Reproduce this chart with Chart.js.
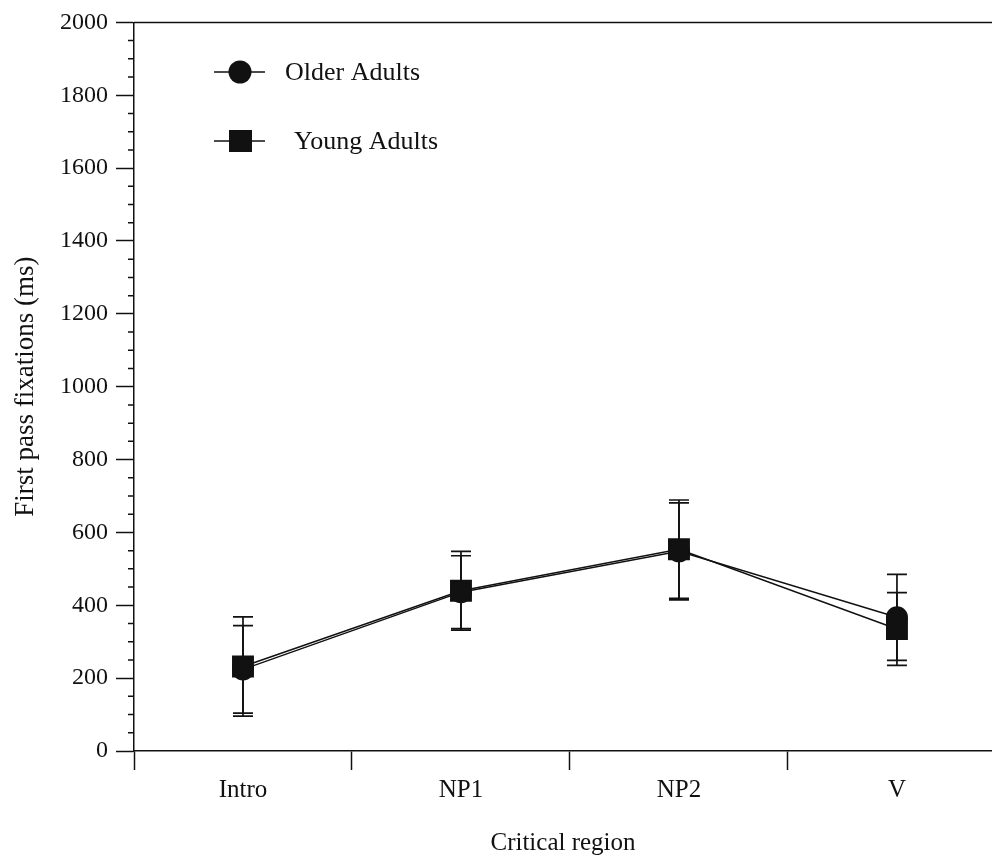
<!DOCTYPE html>
<html>
<head>
<meta charset="utf-8">
<script src="https://cdn.jsdelivr.net/npm/chart.js@4.4.1/dist/chart.umd.min.js"></script>
<style>
  body { margin: 0; background: #fff; }
  #wrap { width: 992px; height: 858px; }
</style>
</head>
<body>
<div id="wrap"><canvas id="myChart" width="992" height="858"></canvas></div>
<script>
// categories on the x axis
var categories = ['Intro', 'NP1', 'NP2', 'V'];
// mean first pass fixation times (ms)
var olderMeans = [224, 436, 548, 367];
var youngMeans = [232, 440, 554, 335];
// error bar half-lengths (ms)
var olderErr = [120, 100, 133, 118];
var youngErr = [136, 108, 135, 100];
// y axis
var yTicks = [0, 200, 400, 600, 800, 1000, 1200, 1400, 1600, 1800, 2000];

var serif = "'Liberation Serif', 'Times New Roman', serif";
var ink = '#111';

function toPoints(means) {
    return means.map(function (m, i) { return { x: i, y: m }; });
}

// error bars, top border, minor ticks and the legend
var extras = {
    id: 'extras',
    beforeDatasetsDraw: function (chart) {
        var ctx = chart.ctx, xs = chart.scales.x, ys = chart.scales.y;
        var sets = [[olderMeans, olderErr], [youngMeans, youngErr]];
        ctx.save();
        ctx.strokeStyle = ink;
        ctx.lineWidth = 1.7;
        sets.forEach(function (s) {
            s[0].forEach(function (m, i) {
                var x = xs.getPixelForValue(i);
                var hi = ys.getPixelForValue(m + s[1][i]);
                var lo = ys.getPixelForValue(m - s[1][i]);
                ctx.beginPath();
                ctx.moveTo(x, hi); ctx.lineTo(x, lo);
                ctx.moveTo(x - 10, hi); ctx.lineTo(x + 10, hi);
                ctx.moveTo(x - 10, lo); ctx.lineTo(x + 10, lo);
                ctx.stroke();
            });
        });
        ctx.restore();
    },
    afterDraw: function (chart) {
        var ctx = chart.ctx, a = chart.chartArea, ys = chart.scales.y;
        ctx.save();
        ctx.strokeStyle = ink;
        ctx.lineWidth = 1.5;
        // top border
        ctx.beginPath();
        ctx.moveTo(a.left, a.top); ctx.lineTo(a.right, a.top);
        ctx.stroke();
        // minor ticks
        ctx.beginPath();
        for (var v = 50; v < 2000; v += 50) {
            if (v % 200 === 0) continue;
            var y = ys.getPixelForValue(v);
            ctx.moveTo(a.left - 6, y); ctx.lineTo(a.left, y);
        }
        ctx.stroke();
        // legend
        var rows = [
            { label: 'Older Adults', style: 'circle', y: 72, tx: 285 },
            { label: 'Young Adults', style: 'rect', y: 141, tx: 294 }
        ];
        ctx.fillStyle = ink;
        ctx.font = '26px ' + serif;
        ctx.textBaseline = 'middle';
        rows.forEach(function (r) {
            ctx.beginPath();
            ctx.moveTo(214, r.y); ctx.lineTo(265, r.y);
            ctx.stroke();
            if (r.style === 'circle') {
                ctx.beginPath();
                ctx.arc(240, r.y, 11.5, 0, Math.PI * 2);
                ctx.fill();
            } else {
                ctx.fillRect(229, r.y - 11, 23, 22);
            }
            ctx.fillText(r.label, r.tx, r.y + 1);
        });
        ctx.restore();
    }
};

var ctx1 = document.getElementById('myChart').getContext('2d');
var myChart = new Chart(ctx1, {
    type: 'line',
    data: {
        datasets: [{
            label: 'Older Adults',
            data: toPoints(olderMeans),
            borderColor: ink,
            borderWidth: 1.5,
            pointStyle: 'circle',
            pointRadius: 11,
            pointBackgroundColor: ink,
            pointBorderWidth: 0,
            tension: 0
        }, {
            label: 'Young Adults',
            data: toPoints(youngMeans),
            borderColor: ink,
            borderWidth: 1.5,
            pointStyle: 'rect',
            pointRadius: 15.5,
            pointBackgroundColor: ink,
            pointBorderWidth: 0,
            tension: 0
        }]
    },
    options: {
        responsive: false,
        animation: false,
        layout: { autoPadding: false, padding: { top: 22, right: 0, bottom: 0, left: 0 } },
        plugins: {
            legend: { display: false },
            tooltip: { enabled: false }
        },
        scales: {
            x: {
                type: 'linear',
                min: -0.5,
                max: 3.436,
                afterBuildTicks: function (axis) {
                    axis.ticks = [-0.5, 0, 0.5, 1, 1.5, 2, 2.5, 3].map(function (v) { return { value: v }; });
                },
                afterFit: function (s) {
                    s.height = 107;
                    s.paddingLeft = 0;
                    s.paddingRight = 0;
                },
                border: { display: true, color: ink, width: 1.5 },
                grid: {
                    drawOnChartArea: false,
                    drawTicks: true,
                    tickLength: 19,
                    tickWidth: 1.5,
                    tickColor: function (c) {
                        return Number.isInteger(c.tick.value) ? 'rgba(0,0,0,0)' : ink;
                    }
                },
                ticks: {
                    autoSkip: false,
                    maxRotation: 0,
                    padding: 5,
                    color: ink,
                    font: { family: serif, size: 25 },
                    callback: function (v) { return Number.isInteger(v) ? categories[v] : ''; }
                },
                title: {
                    display: true,
                    text: 'Critical region',
                    color: ink,
                    font: { family: serif, size: 25 },
                    padding: { top: 0, bottom: 0 }
                }
            },
            y: {
                min: 0,
                max: 2000,
                afterBuildTicks: function (axis) {
                    axis.ticks = yTicks.map(function (v) { return { value: v }; });
                },
                afterFit: function (s) { s.width = 134; },
                border: { display: true, color: ink, width: 1.5 },
                grid: {
                    drawOnChartArea: false,
                    drawTicks: true,
                    tickLength: 18,
                    tickWidth: 1.5,
                    tickColor: ink
                },
                ticks: {
                    padding: 8,
                    color: ink,
                    font: { family: serif, size: 24 },
                    callback: function (v) { return String(v); }
                },
                title: {
                    display: true,
                    text: 'First pass fixations (ms)',
                    color: ink,
                    font: { family: serif, size: 27 },
                    padding: { top: 10, bottom: 0 }
                }
            }
        }
    },
    plugins: [extras]
});
</script>
</body>
</html>
